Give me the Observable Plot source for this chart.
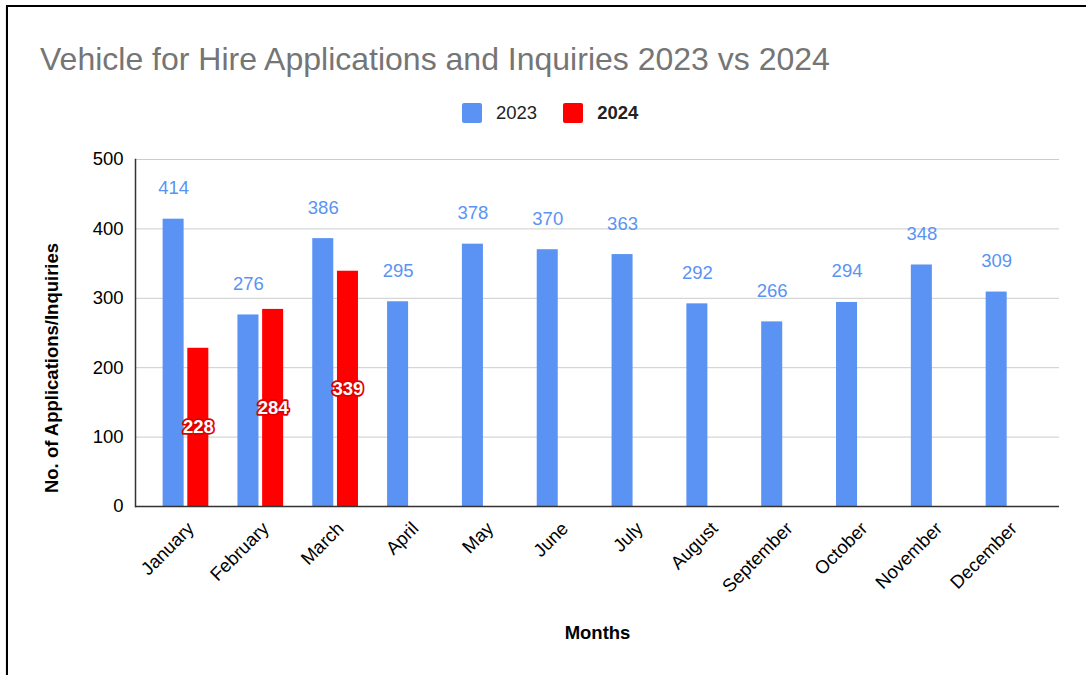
<!DOCTYPE html>
<html><head><meta charset="utf-8">
<script src="https://cdn.jsdelivr.net/npm/d3@7"></script>
<script src="https://cdn.jsdelivr.net/npm/@observablehq/plot@0.6"></script>
<style>
body{margin:0;background:#fff;font-family:"Liberation Sans",Arial,sans-serif;overflow:hidden;}
#wrap{position:relative;width:1086px;height:675px;overflow:hidden;background:#fff;}
#border{position:absolute;left:6px;top:5px;width:1200px;height:900px;border:2px solid #000;box-shadow:0 1px 1px #999;}
#title{position:absolute;left:40px;top:43px;font-size:32px;line-height:32px;color:#757575;white-space:nowrap;}
#legend{position:absolute;left:462px;top:103px;height:20px;display:flex;align-items:center;font-size:18.5px;color:#222;}
.sw{width:20px;height:20px;border-radius:2px;margin-right:14px;}
#chart{position:absolute;left:0;top:140px;}
</style></head>
<body>
<div id="wrap">
<div id="border"></div>
<div id="title">Vehicle for Hire Applications and Inquiries 2023 vs 2024</div>
<div id="legend"></div>
<div id="chart"></div>
</div>
<script>
const months = ["January","February","March","April","May","June","July","August","September","October","November","December"];
const values2023 = [414,276,386,295,378,370,363,292,266,294,348,309];
const values2024 = [228,284,339];
const seriesNames = ["2023","2024"];
const seriesColors = ["#5a93f4","#ff0000"];
const yTicks = [0,100,200,300,400,500];
const yLabel = "No. of Applications/Inquiries";
const xLabel = "Months";

const data2023 = months.map((m,i)=>({month:m, value:values2023[i]}));
const data2024 = values2024.map((v,i)=>({month:months[i], value:v}));

// legend
const leg = document.getElementById("legend");
seriesNames.forEach((s,i)=>{
  const sw = document.createElement("div"); sw.className="sw"; sw.style.background=seriesColors[i];
  const t = document.createElement("span"); t.textContent=s;
  if(i===1){t.style.fontWeight="bold";} else {t.style.marginRight="26px";}
  leg.appendChild(sw); leg.appendChild(t);
});

const fs = 18.5;
const chart = Plot.plot({
  width:1086, height:535,
  marginTop:19, marginLeft:135, marginRight:27, marginBottom:169,
  style:{fontFamily:'"Liberation Sans", Arial, sans-serif', fontSize:fs+"px", color:"#000", background:"transparent"},
  x:{domain:months, paddingInner:0.389, paddingOuter:0.369, round:false},
  y:{domain:[0,500]},
  marks:[
    Plot.gridY(yTicks,{stroke:"#cccccc", strokeOpacity:1}),
    Plot.axisY(yTicks,{tickSize:0, tickPadding:12, fontSize:fs, label:null, fill:"#000"}),
    Plot.axisX({tickRotate:-45, tickSize:0, tickPadding:19, dx:5, fontSize:fs, label:null, fill:"#000"}),
    Plot.barY(data2023,{x:"month", y:"value", fill:seriesColors[0], insetRight:24.7}),
    Plot.barY(data2024,{x:"month", y:"value", fill:seriesColors[1], insetLeft:24.7}),
    Plot.ruleY([0],{stroke:"#333", strokeWidth:1.5}),
    Plot.frame({anchor:"left", stroke:"#333", strokeWidth:1.5}),
    Plot.text(data2023,{x:"month", y:"value", text:d=>String(d.value), dx:-12.35, dy:-25, lineAnchor:"bottom", fill:seriesColors[0], fontSize:fs}),
    Plot.text(data2024,{x:"month", y:d=>d.value/2, text:d=>String(d.value), dx:12.35, lineAnchor:"middle", fill:"#fff", stroke:"#e00000", strokeWidth:3.5, strokeLinejoin:"round", paintOrder:"stroke", fontWeight:"bold", fontSize:fs}),
    Plot.text([yLabel],{text:d=>d, frameAnchor:"left", textAnchor:"middle", rotate:-90, dx:-83, dy:35, lineAnchor:"middle", fontWeight:"bold", fontSize:fs, fill:"#000"}),
    Plot.text([xLabel],{text:d=>d, frameAnchor:"bottom", textAnchor:"middle", dy:127, lineAnchor:"middle", fontWeight:"bold", fontSize:fs, fill:"#000"})
  ]
});
document.getElementById("chart").appendChild(chart);
</script>
</body></html>
